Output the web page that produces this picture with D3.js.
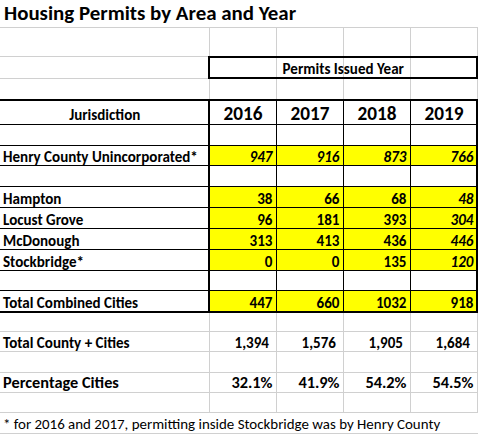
<!DOCTYPE html>
<html><head><meta charset="utf-8">
<script src="https://cdn.jsdelivr.net/npm/d3@7"></script>
<style>html,body{margin:0;padding:0;background:#fff;overflow:hidden}</style>
</head><body><svg id="c" width="478" height="434"></svg>
<script>
// ---- data ----
const title = "Housing Permits by Area and Year";
const groupHeader = "Permits Issued Year";
const firstColHeader = "Jurisdiction";
const years = ["2016", "2017", "2018", "2019"];
const henryCounty = [947, 916, 873, 766];
const hampton = [38, 66, 68, 48];
const locustGrove = [96, 181, 393, 304];
const mcdonough = [313, 413, 436, 446];
const stockbridge = [0, 0, 135, 120];
const totalCombinedCities = [447, 660, 1032, 918];
const totalCountyCities = [1394, 1576, 1905, 1684];
const percentageCities = [32.1, 41.9, 54.2, 54.5];
const footnote = "* for 2016 and 2017, permitting inside Stockbridge was by Henry County";

// ---- layout ----
const W = 478, H = 434;
const colA = 209.5;
const x = d3.scaleBand().domain(years).range([colA, 477.5]).padding(0);
const fmtInt = d3.format("d"), fmtComma = d3.format(","), fmtPct = v => d3.format(".1f")(v) + "%";

const rows = [
  {key: "title", h: 28},
  {key: "blank", h: 29},
  {key: "group", h: 22},
  {key: "blank", h: 21},
  {key: "header", h: 25},
  {key: "blank", h: 21, table: true},
  {key: "henry", h: 20, label: "Henry County Unincorporated*", values: henryCounty, yellow: true, fmt: fmtInt, italicAll: true},
  {key: "blank", h: 21, table: true},
  {key: "city", h: 21, label: "Hampton", values: hampton, yellow: true, fmt: fmtInt, italicLast: true},
  {key: "city", h: 21, label: "Locust Grove", values: locustGrove, yellow: true, fmt: fmtInt, italicLast: true},
  {key: "city", h: 21, label: "McDonough", values: mcdonough, yellow: true, fmt: fmtInt, italicLast: true},
  {key: "city", h: 21, label: "Stockbridge*", values: stockbridge, yellow: true, fmt: fmtInt, italicLast: true},
  {key: "blank", h: 20, table: true},
  {key: "totalCities", h: 21, label: "Total Combined Cities", values: totalCombinedCities, yellow: true, fmt: fmtInt},
  {key: "blank", h: 20},
  {key: "totalAll", h: 20, label: "Total County + Cities", values: totalCountyCities, fmt: fmtComma, pad: 7.5},
  {key: "blank", h: 21},
  {key: "pct", h: 20, label: "Percentage Cities", values: percentageCities, fmt: fmtPct, big: true},
  {key: "blank", h: 20},
  {key: "foot", h: 21}
];
let acc = 0;
rows.forEach(r => { r.y0 = acc; acc += r.h; r.y1 = acc; });

const svg = d3.select("#c");
const FF = "Carlito, Lato, sans-serif";
function measure(text, size, weight) {
  const t = svg.append("text").attr("font-family", FF).attr("font-size", size)
    .attr("font-weight", weight).text(text);
  const w = t.node().getComputedTextLength(); t.remove(); return w;
}
// calibrate the font sizes against text widths seen in the reference
const calib = [[groupHeader, 130], ["Henry County Unincorporated*", 191], ["Hampton", 56],
  ["Total Combined Cities", 135], ["Total County + Cities", 125], ["Locust Grove", 80]];
const fsB = 14.67 * d3.sum(calib, c => c[1]) / d3.sum(calib, c => measure(c[0], 14.67, "bold"));
const fsTitle = 18.67 * 292 / measure(title, 18.67, "bold");
const fsYear = 18.67 * 39 / measure("2016", 18.67, "bold");
const fsR = 14.67 * 437 / measure(footnote, 14.67, "normal");
const fsPct = 16 * 116 / measure("Percentage Cities", 16, "bold");

svg.append("rect").attr("width", W).attr("height", H).attr("fill", "#fff");

// yellow fills
rows.filter(r => r.yellow).forEach(r => {
  svg.selectAll(null).data(years).enter().append("rect")
    .attr("x", d => x(d)).attr("y", r.y0).attr("width", x.bandwidth()).attr("height", r.h)
    .attr("fill", "#ffff00");
});

// gray gridlines
const grid = svg.append("g").attr("stroke", "#d0d0d0").attr("stroke-width", 1);
rows.forEach(r => {
  grid.append("line").attr("x1", 0).attr("x2", W).attr("y1", r.y1 - 0.5).attr("y2", r.y1 - 0.5);
});
const vBounds = [colA].concat(years.map(d => x(d) + x.bandwidth()));
rows.filter(r => r.key !== "title" && r.key !== "foot").forEach(r => {
  vBounds.forEach(b => grid.append("line").attr("x1", b).attr("x2", b).attr("y1", r.y0).attr("y2", r.y1));
});

// black table borders
const tTop = rows[4].y0, tBot = rows[13].y1;
const blk = svg.append("g").attr("stroke", "#000");
rows.slice(4, 13).forEach(r => {
  blk.append("line").attr("x1", 0).attr("x2", 477.5).attr("y1", r.y1 - 0.5).attr("y2", r.y1 - 0.5).attr("stroke-width", 1);
});
years.slice(1).forEach(d => {
  blk.append("line").attr("x1", x(d)).attr("x2", x(d)).attr("y1", tTop).attr("y2", tBot).attr("stroke-width", 1);
});
[tTop, tBot].forEach(yy => blk.append("line").attr("x1", 0).attr("x2", W).attr("y1", yy).attr("y2", yy).attr("stroke-width", 2));
[colA - 0.5, 477].forEach(xx => blk.append("line").attr("x1", xx).attr("x2", xx).attr("y1", tTop - 1).attr("y2", tBot + 1).attr("stroke-width", 2));
// group header box
const gr = rows[2];
blk.append("rect").attr("x", colA - 0.5).attr("y", gr.y0).attr("width", 477 - (colA - 0.5)).attr("height", gr.h - 1)
  .attr("fill", "none").attr("stroke-width", 2);

// texts
const txt = svg.append("g").attr("font-family", FF).attr("fill", "#000");
txt.append("text").attr("x", 4).attr("y", 20).attr("font-weight", "bold").attr("font-size", fsTitle).text(title);
txt.append("text").attr("x", (colA + 477) / 2).attr("y", gr.y1 - 5.5).attr("text-anchor", "middle")
  .attr("font-weight", "bold").attr("font-size", fsB).text(groupHeader);
const hr = rows[4];
txt.append("text").attr("x", colA / 2).attr("y", hr.y1 - 5).attr("text-anchor", "middle")
  .attr("font-weight", "bold").attr("font-size", fsB).text(firstColHeader);
txt.selectAll(null).data(years).enter().append("text")
  .attr("x", d => x(d) + x.bandwidth() / 2).attr("y", hr.y1 - 5).attr("text-anchor", "middle")
  .attr("font-weight", "bold").attr("font-size", fsYear).text(d => d);

rows.filter(r => r.label).forEach(r => {
  const fs = r.big ? fsPct : fsB;
  const base = r.y1 - (r.big ? 5 : 4.5);
  txt.append("text").attr("x", 3).attr("y", base).attr("font-weight", "bold").attr("font-size", fs).text(r.label);
  txt.selectAll(null).data(r.values).enter().append("text")
    .attr("x", (v, i) => x(years[i]) + x.bandwidth() - (r.pad || 4))
    .attr("y", base).attr("text-anchor", "end")
    .attr("font-weight", "bold").attr("font-size", fs)
    .attr("font-style", (v, i) => (r.italicAll || (r.italicLast && i === years.length - 1)) ? "italic" : "normal")
    .text(v => r.fmt(v));
});
const fr = rows[rows.length - 1];
txt.append("text").attr("x", 3).attr("y", fr.y1 - 5.5).attr("font-size", fsR).text(footnote);
</script>
</body></html>
